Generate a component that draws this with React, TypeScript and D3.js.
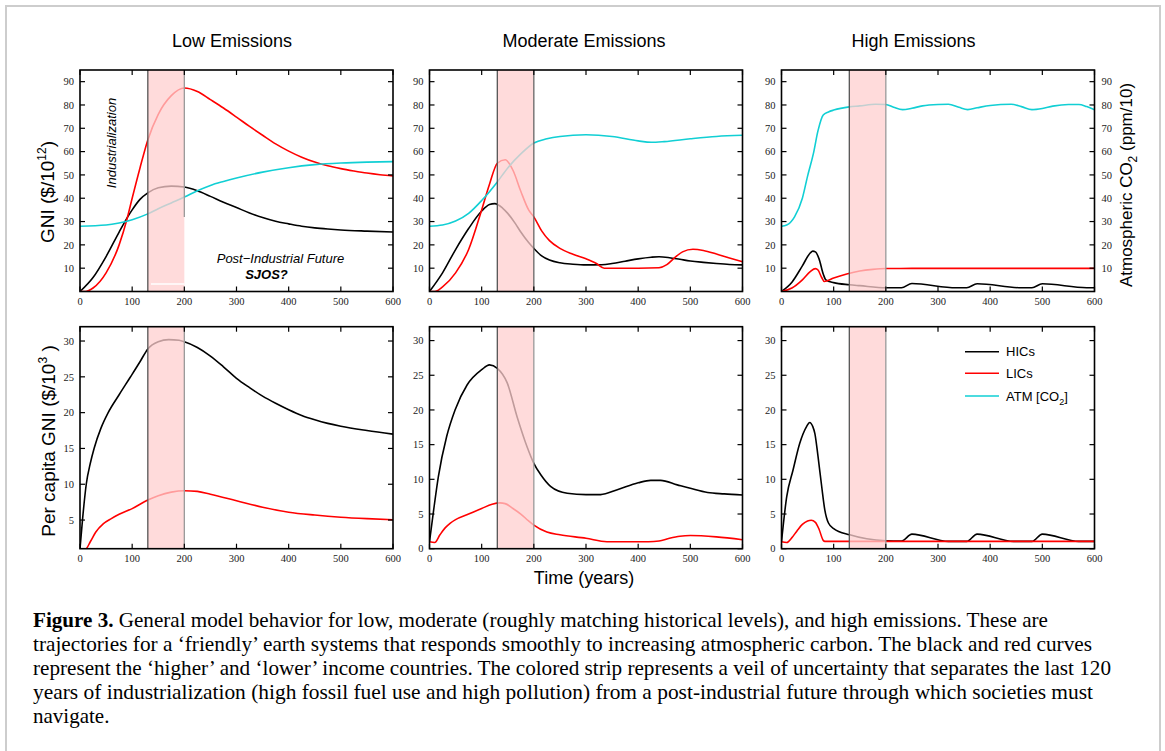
import React from 'react';
import * as d3 from 'd3';

// ---- data: [year, value] ----
const xTicks = [0, 100, 200, 300, 400, 500, 600];
const gniTicks = [10, 20, 30, 40, 50, 60, 70, 80, 90];
const capTicksLow = [5, 10, 15, 20, 25, 30];
const capTicks = [0, 5, 10, 15, 20, 25, 30];
const strip = [130, 200];

const lowHicGni = [[0,0],[25,6],[50,15],[75,25.5],[90,31.5],[100,35],[115,39.5],[130,42.3],[150,44.5],[175,45.2],[200,44.8],[225,43.2],[250,40.8],[275,38.3],[300,36],[325,33.7],[350,31.7],[375,30.1],[400,29],[425,28],[450,27.3],[475,26.8],[500,26.4],[550,25.9],[600,25.5]];
const lowLicGni = [[0,0],[10,0],[25,1.5],[50,8],[75,20],[90,31],[100,40],[115,53],[130,65],[150,76],[175,84],[200,87.3],[225,85.8],[250,82.3],[275,78.7],[300,74.8],[325,70.8],[350,67],[375,63.3],[400,60.2],[425,57.6],[450,55.5],[475,53.9],[500,52.7],[525,51.7],[550,50.8],[575,50.1],[600,49.6]];
const lowAtm = [[0,28],[50,28.5],[75,29.4],[100,30.8],[130,33.3],[150,35.5],[175,38],[200,40.5],[225,43.2],[250,45.5],[275,47.2],[300,48.7],[350,51.2],[400,53.1],[450,54.4],[500,55.1],[550,55.5],[600,55.7]];

const modHicGni = [[0,0],[25,8],[50,18],[75,27],[100,34.5],[115,37.3],[125,37.7],[140,35.8],[150,33.5],[165,29],[175,25.5],[190,21],[200,18.5],[215,15.3],[230,13.5],[250,12.3],[275,11.7],[300,11.4],[330,11.5],[350,12],[375,13],[400,14],[425,14.7],[440,14.9],[460,14.5],[480,13.8],[500,13.1],[525,12.5],[550,12],[575,11.6],[600,11.4]];
const modLicGni = [[0,0],[10,0],[25,2],[50,8],[75,18],[100,35],[115,46],[130,55],[145,56.5],[160,52],[175,43],[190,35],[200,32],[215,26],[230,21.8],[250,18.5],[275,16],[300,14],[320,12],[335,10],[350,10],[400,10],[440,10.2],[455,11.5],[470,14.5],[485,17],[505,18.1],[525,17.6],[550,16.1],[575,14.4],[600,12.8]];
const modAtm = [[0,28],[25,28.5],[50,30.2],[75,33.5],[100,39],[130,47],[150,53],[175,59],[200,63.7],[225,65.5],[250,66.5],[300,67.2],[350,66.5],[400,64.6],[425,64],[450,64.3],[500,65.5],[550,66.5],[600,67]];

const highHicGni = [[0,0],[20,4],[40,11],[55,16.5],[60,17.3],[65,17],[72,14],[80,7.5],[85,5],[100,3.8],[130,2.9],[150,2.5],[200,1.6],[230,1.6],[250,3.4],[335,1.6],[355,1.6],[375,3.3],[460,1.6],[480,1.6],[500,3.3],[585,1.6],[600,1.6]];
const highLicGni = [[0,0],[20,1.5],[40,5],[55,8.5],[65,9.8],[70,9.2],[77,6],[82,4.3],[100,5.8],[125,7.5],[150,8.8],[175,9.5],[200,9.85],[250,9.9],[600,9.9]];
const highAtm = [[0,28],[10,28.5],[25,32],[40,40],[50,49.5],[61,59],[70,69],[80,75.7],[90,77],[100,77.8],[130,79.2],[150,79.6],[180,80.3],[200,80.2],[215,79],[232,78],[250,78.6],[270,79.6],[300,80.2],[320,80.3],[340,79],[357,78],[375,78.8],[400,79.8],[440,80.3],[460,79.3],[480,78],[500,78.5],[520,79.5],[550,80.2],[570,80.2],[585,79.3],[600,78]];

const lowHicCap = [[0,1],[5,5.2],[12,10],[20,13],[27,15],[40,17.8],[54,20],[75,22.5],[96,24.9],[115,27.1],[130,28.9],[150,29.9],[170,30.2],[190,30.1],[200,29.9],[225,29.1],[250,27.9],[275,26.4],[300,24.8],[325,23.5],[350,22.3],[375,21.3],[400,20.4],[425,19.6],[450,19],[475,18.5],[500,18.1],[550,17.5],[600,17]];
const lowLicCap = [[0,1],[10,0.9],[20,2],[30,3.3],[45,4.5],[60,5.2],[75,5.8],[100,6.6],[130,7.8],[150,8.4],[175,8.9],[200,9.1],[225,9],[250,8.6],[300,7.7],[350,6.8],[400,6.1],[450,5.7],[500,5.4],[550,5.2],[600,5.05]];

const modHicCap = [[0,1],[8,5.6],[17,10.4],[33,16.2],[49,20],[72,23.6],[100,25.8],[115,26.5],[130,26],[149,23.9],[168,19],[187,14.7],[200,12.3],[213,10.7],[232,9],[264,8],[300,7.8],[328,7.8],[360,8.5],[400,9.5],[424,9.85],[443,9.85],[475,9.2],[500,8.7],[533,8.1],[565,7.9],[600,7.75]];
const modLicCap = [[0,1],[10,0.9],[20,2],[30,3],[40,3.7],[50,4.2],[75,5],[100,5.8],[120,6.4],[135,6.6],[145,6.5],[160,5.8],[175,5],[190,4],[200,3.4],[225,2.4],[250,2],[300,1.5],[340,1],[420,1],[440,1.1],[460,1.5],[480,1.8],[500,1.9],[550,1.7],[600,1.3]];

const highHicCap = [[0,1],[10,7.5],[22,11.3],[35,15.2],[48,17.6],[54,18.2],[60,17.6],[64,16.6],[70,13.3],[77,9],[83,5.6],[90,3.7],[100,2.9],[131,2],[200,1.15],[230,1.1],[250,2.1],[320,1.05],[355,1.05],[375,2.1],[445,1.05],[480,1.05],[500,2.1],[570,1.05],[600,1.05]];
const highLicCap = [[0,1],[10,0.9],[20,1.6],[30,2.6],[40,3.5],[50,4],[57,4.1],[65,3.8],[72,2.8],[80,1.2],[83,1.05],[600,1.05]];

const titles = ['Low Emissions', 'Moderate Emissions', 'High Emissions'];
const legendItems = [['HICs', '#000'], ['LICs', '#f00'], ['ATM [CO', '#11cfd4']];
const captionLines = [
  ' General model behavior for low, moderate (roughly matching historical levels), and high emissions. These are',
  'trajectories for a \u2018friendly\u2019 earth systems that responds smoothly to increasing atmospheric carbon. The black and red curves',
  'represent the \u2018higher\u2019 and \u2018lower\u2019 income countries. The colored strip represents a veil of uncertainty that separates the last 120',
  'years of industrialization (high fossil fuel use and high pollution) from a post-industrial future through which societies must',
  'navigate.',
];

const BLACK = '#000';
const RED = '#f00';
const CYAN = '#11cfd4';
const SANS = 'Liberation Sans, Arial, sans-serif';
const SERIF = 'Liberation Serif, Times New Roman, serif';

const colX = [80, 429.5, 781.5];
const PW = 313;
const rowY = [[70, 291.5], [326.7, 548.7]];

type Series = { data: number[][]; color: string };

function Panel({ id, left, top, bottom, yDomain, yTicks, series, rightLabels, topLeftQuirk, rightEdgeColor }:
  { id: string; left: number; top: number; bottom: number; yDomain: number[]; yTicks: number[]; series: Series[];
    rightLabels?: boolean; topLeftQuirk?: boolean; rightEdgeColor: string }) {
  const x = d3.scaleLinear().domain([0, 600]).range([left, left + PW]);
  const y = d3.scaleLinear().domain(yDomain).range([bottom, top]);
  const line = d3.line<number[]>().x(d => x(d[0])).y(d => y(d[1])).curve(d3.curveMonotoneX);
  const tk = 5;
  return (
    <g>
      <defs>
        <clipPath id={id}><rect x={left} y={top} width={PW} height={bottom - top} /></clipPath>
      </defs>
      <g clipPath={`url(#${id})`}>
        {series.map((s, i) => (
          <path key={i} d={line(s.data) || ''} fill="none" stroke={s.color} strokeWidth={1.6} />
        ))}
        <rect x={x(strip[0])} y={top} width={x(strip[1]) - x(strip[0])} height={bottom - top} fill="#ffcfcf" opacity={0.75} />
        {topLeftQuirk && (
          <line x1={x(136)} x2={x(200)} y1={y(3.2)} y2={y(3.2)} stroke="#fff" strokeWidth={1.5} />
        )}
      </g>
      <line x1={x(strip[0])} x2={x(strip[0])} y1={top} y2={bottom} stroke="#555" strokeWidth={1.3} />
      <line x1={x(strip[1])} x2={x(strip[1])} y1={top} y2={topLeftQuirk ? y(32) : bottom} stroke={rightEdgeColor} strokeWidth={1.3} />
      <rect x={left} y={top} width={PW} height={bottom - top} fill="none" stroke="#000" strokeWidth={1.6} />
      {yTicks.map(t => (
        <g key={'y' + t}>
          <line x1={left} x2={left + tk} y1={y(t)} y2={y(t)} stroke="#000" strokeWidth={1.2} />
          <line x1={left + PW} x2={left + PW - tk} y1={y(t)} y2={y(t)} stroke="#000" strokeWidth={1.2} />
          <text x={left - 6} y={y(t)} dy="0.35em" textAnchor="end" fontFamily={SERIF} fontSize={10.5} fill="#222">{t}</text>
          {rightLabels && (
            <text x={left + PW + 7} y={y(t)} dy="0.35em" textAnchor="start" fontFamily={SERIF} fontSize={10.5} fill="#222">{t}</text>
          )}
        </g>
      ))}
      {xTicks.map(t => (
        <g key={'x' + t}>
          <line x1={x(t)} x2={x(t)} y1={bottom} y2={bottom - tk} stroke="#000" strokeWidth={1.2} />
          <line x1={x(t)} x2={x(t)} y1={top} y2={top + tk} stroke="#000" strokeWidth={1.2} />
          <text x={x(t)} y={bottom + 13} textAnchor="middle" fontFamily={SERIF} fontSize={10.5} fill="#222">{t}</text>
        </g>
      ))}
    </g>
  );
}

export default function App() {
  const topSeries: Series[][] = [
    [{ data: lowHicGni, color: BLACK }, { data: lowLicGni, color: RED }, { data: lowAtm, color: CYAN }],
    [{ data: modHicGni, color: BLACK }, { data: modLicGni, color: RED }, { data: modAtm, color: CYAN }],
    [{ data: highHicGni, color: BLACK }, { data: highLicGni, color: RED }, { data: highAtm, color: CYAN }],
  ];
  const botSeries: Series[][] = [
    [{ data: lowHicCap, color: BLACK }, { data: lowLicCap, color: RED }],
    [{ data: modHicCap, color: BLACK }, { data: modLicCap, color: RED }],
    [{ data: highHicCap, color: BLACK }, { data: highLicCap, color: RED }],
  ];
  const titleX = [232, 584, 913.5];
  const captionWidths = [1015, 1059, 1078, 1060, 0];
  const captionY = [627, 651, 675, 699, 723];
  const legY = [351.7, 373.3, 396];

  return (
    <div style={{ position: 'absolute', left: 0, top: 0 }}>
      <svg width={1165} height={751} style={{ display: 'block', background: '#fff' }}>
        <rect x={6} y={6} width={1154} height={780} fill="none" stroke="#cdcdcd" strokeWidth={2} />

        {titles.map((t, i) => (
          <text key={t} x={titleX[i]} y={46.5} textAnchor="middle" fontFamily={SANS} fontSize={18} fill="#000">{t}</text>
        ))}

        {colX.map((cx, i) => (
          <Panel key={'t' + i} id={'ct' + i} left={cx} top={rowY[0][0]} bottom={rowY[0][1]} yDomain={[0, 95]}
            yTicks={gniTicks} series={topSeries[i]} rightLabels={i === 2} topLeftQuirk={i === 0}
            rightEdgeColor={i === 1 ? '#666' : '#999'} />
        ))}
        {colX.map((cx, i) => (
          <Panel key={'b' + i} id={'cb' + i} left={cx} top={rowY[1][0]} bottom={rowY[1][1]}
            yDomain={i === 0 ? [1, 32] : [0, 32]} yTicks={i === 0 ? capTicksLow : capTicks}
            series={botSeries[i]} rightEdgeColor="#999" />
        ))}

        {/* annotations in low-emissions panel */}
        <text transform="translate(115.5,143) rotate(-90)" textAnchor="middle" fontFamily={SANS} fontStyle="italic" fontSize={13}>Industrialization</text>
        <text x={280.5} y={263} textAnchor="middle" fontFamily={SANS} fontStyle="italic" fontSize={13}>Post{'\u2212'}Industrial Future</text>
        <text x={266.5} y={279} textAnchor="middle" fontFamily={SANS} fontStyle="italic" fontWeight="bold" fontSize={13}>SJOS?</text>

        {/* axis labels */}
        <text transform="translate(54,192) rotate(-90)" textAnchor="middle" fontFamily={SANS} fontSize={19}>
          GNI ($/10<tspan dy={-8} fontSize={12}>12</tspan><tspan dy={8}>)</tspan>
        </text>
        <text transform="translate(55,441) rotate(-90)" textAnchor="middle" fontFamily={SANS} fontSize={19}>
          Per capita GNI ($/10<tspan dy={-8} fontSize={12}>3</tspan><tspan dy={8}> )</tspan>
        </text>
        <text transform="translate(1132,185) rotate(-90)" textAnchor="middle" fontFamily={SANS} fontSize={17}>
          Atmospheric CO<tspan dy={5} fontSize={12}>2</tspan><tspan dy={-5}> (ppm/10)</tspan>
        </text>
        <text x={584} y={584} textAnchor="middle" fontFamily={SANS} fontSize={18}>Time (years)</text>

        {/* legend */}
        {legendItems.map(([label, color], i) => (
          <g key={label}>
            <line x1={965} x2={999} y1={legY[i]} y2={legY[i]} stroke={color} strokeWidth={1.5} />
            <text x={1006} y={legY[i]} dy="0.35em" fontFamily={SANS} fontSize={13}>
              {label}
              {i === 2 && <><tspan dy={4} fontSize={9}>2</tspan><tspan dy={-4}>]</tspan></>}
            </text>
          </g>
        ))}

        {/* caption */}
        {captionLines.map((ln, i) => (
          <text key={i} x={33} y={captionY[i]} fontFamily={SERIF} fontSize={21} fill="#000"
            {...(captionWidths[i] ? { textLength: captionWidths[i], lengthAdjust: 'spacingAndGlyphs' } : {})}>
            {i === 0 && <tspan fontWeight="bold">Figure 3.</tspan>}
            {ln}
          </text>
        ))}
      </svg>
    </div>
  );
}
